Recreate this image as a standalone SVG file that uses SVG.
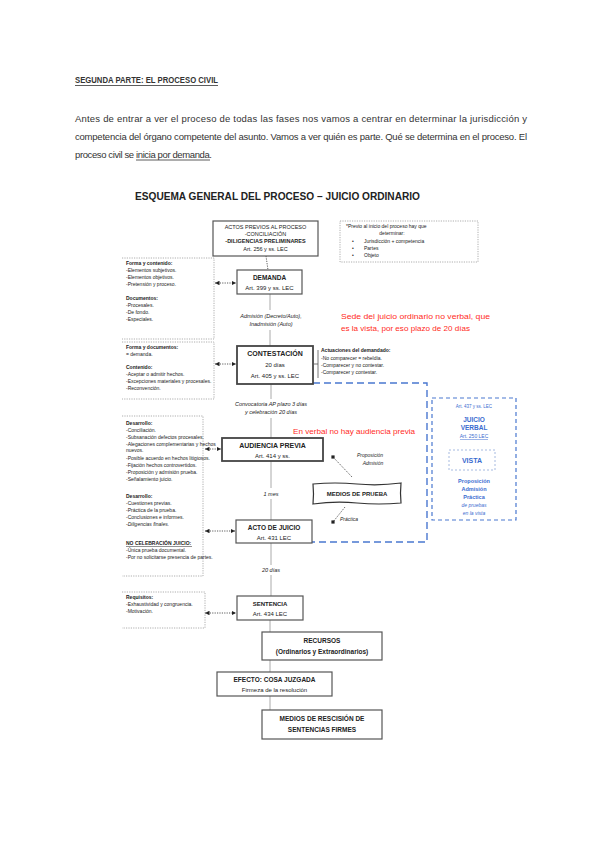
<svg xmlns="http://www.w3.org/2000/svg" width="600" height="848" viewBox="0 0 600 848">
<style>
text{font-family:"Liberation Sans",Arial,sans-serif;fill:#222}
.hd{font-size:9.5px;fill:#333}
.c{text-anchor:middle}
.b{font-weight:bold}
.i{font-style:italic}
.box{fill:#fff;stroke:#555;stroke-width:1.2}
.bx2{fill:#fff;stroke:#444;stroke-width:1.8}
.dotb{fill:none;stroke:#999;stroke-width:0.8;stroke-dasharray:1.2,1.2}
.sp{fill:none;stroke:#aaa;stroke-width:1}
.da{fill:none;stroke:#333;stroke-width:0.8;stroke-dasharray:1.2,1.2}
.red{fill:#ff2b1c}
.bl{fill:#3a6bd0}
.s5{font-size:5px}
.s55{font-size:5.5px}
.s6{font-size:6px}
.s65{font-size:6.5px}
.s7{font-size:7px}
</style>
<defs>
<marker id="ah" viewBox="0 0 6 6" refX="6" refY="3" markerWidth="4.5" markerHeight="4.5" markerUnits="userSpaceOnUse" orient="auto-start-reverse"><path d="M0,0 L6,3 L0,6z" fill="#222"/></marker>
<marker id="sq" viewBox="0 0 4 4" refX="2" refY="2" markerWidth="3.2" markerHeight="3.2" markerUnits="userSpaceOnUse"><rect width="4" height="4" fill="#222"/></marker>
</defs>
<rect width="600" height="848" fill="#fff"/>

<g id="header">
<text class="hd b" x="75" y="83" textLength="143" lengthAdjust="spacingAndGlyphs">SEGUNDA PARTE: EL PROCESO CIVIL</text>
<line x1="75" y1="85.5" x2="218" y2="85.5" stroke="#333" stroke-width="0.8"/>
<text class="hd" x="75" y="122" textLength="452" lengthAdjust="spacing">Antes de entrar a ver el proceso de todas las fases nos vamos a centrar en determinar la jurisdicción y</text>
<text class="hd" x="75" y="140" textLength="452" lengthAdjust="spacing">competencia del órgano competente del asunto. Vamos a ver quién es parte. Qué se determina en el proceso. El</text>
<text class="hd" x="75" y="158" textLength="137" lengthAdjust="spacing">proceso civil se inicia por demanda.</text>
<line x1="136" y1="160" x2="210" y2="160" stroke="#333" stroke-width="0.8"/>
</g>

<text class="b" x="135" y="200" font-size="10.5" textLength="285" lengthAdjust="spacingAndGlyphs">ESQUEMA GENERAL DEL PROCESO – JUICIO ORDINARIO</text>

<g id="connectors">
<line class="da" x1="266" y1="256" x2="268" y2="270"/>
<path class="sp" d="M270,294 V310 M270,330 V346 M271,384 V399 M271,418 V438 M271,461 V488 M271,499 V520 M271,543 V565 M271,575 V596 M270,620 V632 M270,660 V672 M270,696 V710"/>
<path d="M313,383 H427 V542 H312" fill="none" stroke="#4a78d0" stroke-width="1.4" stroke-dasharray="7,4"/>
<line class="da" x1="215" y1="283" x2="236" y2="283" marker-start="url(#ah)" marker-end="url(#ah)"/>
<line class="da" x1="215" y1="364" x2="236" y2="364" marker-start="url(#ah)" marker-end="url(#ah)"/>
<line class="da" x1="205" y1="449" x2="221" y2="449" marker-start="url(#ah)" marker-end="url(#ah)"/>
<line class="da" x1="205" y1="531" x2="235" y2="531" marker-start="url(#ah)" marker-end="url(#ah)"/>
<line class="da" x1="205" y1="613" x2="236" y2="613" marker-start="url(#ah)" marker-end="url(#ah)"/>
<line class="da" x1="333" y1="457" x2="352" y2="477" marker-start="url(#sq)"/>
<line class="da" x1="345" y1="507" x2="333" y2="522" marker-end="url(#sq)"/>
<path d="M314,364 H318 M318,350 V378" fill="none" stroke="#555" stroke-width="0.8"/>
</g>

<g id="actos">
<rect class="box" x="213" y="221" width="105" height="35"/>
<text class="c s55" x="265.5" y="229">ACTOS PREVIOS AL PROCESO</text>
<text class="c s55" x="265.5" y="236">-CONCILIACIÓN</text>
<text class="c s55 b" x="265.5" y="243">-DILIGENCIAS PRELIMINARES</text>
<text class="c s55" x="265.5" y="251">Art. 256 y ss. LEC</text>
</g>

<g id="previo">
<rect class="dotb" x="340" y="221" width="138" height="41"/>
<text class="s5" x="346" y="228">*Previo al inicio del proceso hay que</text>
<text class="s5 c" x="392" y="235">determinar:</text>
<text class="s5" x="352" y="243">•</text><text class="s5" x="364" y="243">Jurisdicción + competencia</text>
<text class="s5" x="352" y="250">•</text><text class="s5" x="364" y="250">Partes</text>
<text class="s5" x="352" y="257">•</text><text class="s5" x="364" y="257">Objeto</text>
</g>

<g id="izq1">
<path class="dotb" d="M122,258 H214 V339 H122"/>
<text class="s5 b" x="126" y="265">Forma y contenido:</text>
<text class="s5" x="126" y="272">-Elementos subjetivos.</text>
<text class="s5" x="126" y="279">-Elementos objetivos.</text>
<text class="s5" x="126" y="286">-Pretensión y proceso.</text>
<text class="s5 b" x="126" y="300">Documentos:</text>
<text class="s5" x="126" y="307">-Procesales.</text>
<text class="s5" x="126" y="314">-De fondo.</text>
<text class="s5" x="126" y="321">-Especiales.</text>
</g>

<g id="izq2">
<path class="dotb" d="M122,342 H214 V399 H122"/>
<text class="s5 b" x="126" y="349">Forma y documentos:</text>
<text class="s5" x="126" y="356">= demanda.</text>
<text class="s5 b" x="126" y="369">Contenido:</text>
<text class="s5" x="126" y="376">-Aceptar o admitir hechos.</text>
<text class="s5" x="126" y="383">-Excepciones materiales y procesales.</text>
<text class="s5" x="126" y="390">-Reconvención.</text>
</g>

<g id="izq3">
<path class="dotb" d="M122,416 H203 V576 H122"/>
<text class="s5 b" x="126" y="425">Desarrollo:</text>
<text class="s5" x="126" y="432">-Conciliación.</text>
<text class="s5" x="126" y="439">-Subsanación defectos procesales.</text>
<text class="s5" x="126" y="446">-Alegaciones complementarias y hechos</text>
<text class="s5" x="126" y="452">nuevos.</text>
<text class="s5" x="126" y="460">-Posible acuerdo en hechos litigiosos.</text>
<text class="s5" x="126" y="467">-Fijación hechos controvertidos.</text>
<text class="s5" x="126" y="474">-Proposición y admisión prueba.</text>
<text class="s5" x="126" y="481">-Señalamiento juicio.</text>
<text class="s5 b" x="126" y="498">Desarrollo:</text>
<text class="s5" x="126" y="505">-Cuestiones previas.</text>
<text class="s5" x="126" y="512">-Práctica de la prueba.</text>
<text class="s5" x="126" y="519">-Conclusiones e informes.</text>
<text class="s5 i" x="126" y="526">-Diligencias finales.</text>
<text class="s5 b" x="126" y="545">NO CELEBRACIÓN JUICIO:</text>
<line x1="126" y1="546.5" x2="192" y2="546.5" stroke="#222" stroke-width="0.5"/>
<text class="s5" x="126" y="552">-Única prueba documental.</text>
<text class="s5" x="126" y="559">-Por no solicitarse presencia de partes.</text>
</g>

<g id="izq4">
<path class="dotb" d="M122,592 H205 V628 H122"/>
<text class="s5 b" x="126" y="599">Requisitos:</text>
<text class="s5" x="126" y="606">-Exhaustividad y congruencia.</text>
<text class="s5" x="126" y="613">-Motivación.</text>
</g>

<g id="demanda">
<rect class="box" x="237" y="270" width="65" height="24"/>
<text class="c s65 b" x="269.5" y="280">DEMANDA</text>
<text class="c s6" x="269.5" y="290">Art. 399 y ss. LEC</text>
</g>
<g id="admision">
<text class="c s55 i" x="271" y="318">Admisión (Decreto/Auto),</text>
<text class="c s55 i" x="271" y="326">Inadmisión (Auto)</text>
</g>
<g id="nota-roja1">
<text class="red" x="341" y="319" font-size="7.6" textLength="149" lengthAdjust="spacingAndGlyphs">Sede del juicio ordinario no verbal, que</text>
<text class="red" x="341" y="331" font-size="7.6" textLength="129" lengthAdjust="spacingAndGlyphs">es la vista, por eso plazo de 20 días</text>
</g>

<g id="contestacion">
<rect class="bx2" x="237" y="346" width="76" height="38"/>
<text class="c s7 b" x="275" y="356">CONTESTACIÓN</text>
<text class="c s6" x="275" y="367">20 días</text>
<text class="c s6" x="275" y="378">Art. 405 y ss. LEC</text>
</g>
<g id="actuaciones">
<text class="s5 b" x="321" y="352">Actuaciones del demandado:</text>
<text class="s5" x="321" y="360">-No comparecer = rebeldía.</text>
<text class="s5" x="321" y="367">-Comparecer y no contestar.</text>
<text class="s5" x="321" y="374">-Comparecer y contestar.</text>
</g>

<g id="convocatoria">
<text class="c s55 i" x="271" y="406">Convocatoria AP plazo 3 días</text>
<text class="c s55 i" x="271" y="414">y celebración 20 días</text>
</g>
<text class="red" x="293" y="434" font-size="7.6" textLength="122" lengthAdjust="spacingAndGlyphs">En verbal no hay audiencia previa</text>

<g id="verbal">
<rect x="432" y="398" width="84" height="122" fill="none" stroke="#4a78d0" stroke-width="1.2" stroke-dasharray="4,3"/>
<text class="c bl" x="474" y="408" font-size="4.5">Art. 437 y ss. LEC</text>
<text class="c bl b s65" x="474" y="422">JUICIO</text>
<text class="c bl b s65" x="474" y="430">VERBAL</text>
<text class="c bl s5" x="474" y="438">Art. 250 LEC</text>
<line x1="460" y1="439.5" x2="488" y2="439.5" stroke="#3a6bd0" stroke-width="0.5"/>
<rect x="449" y="450" width="46" height="20" fill="none" stroke="#8fa8d8" stroke-width="0.8" stroke-dasharray="2,2"/>
<text class="c bl b s7" x="472" y="463">VISTA</text>
<text class="c bl b s55" x="474" y="483">Proposición</text>
<text class="c bl b s55" x="474" y="491">Admisión</text>
<text class="c bl b s55" x="474" y="499">Práctica</text>
<text class="c bl i s5" x="474" y="507">de pruebas</text>
<text class="c bl i s5" x="474" y="515">en la vista</text>
</g>

<g id="audiencia">
<rect class="bx2" x="222" y="438" width="101" height="23"/>
<text class="c s7 b" x="272.5" y="448">AUDIENCIA PREVIA</text>
<text class="c s6" x="272.5" y="458">Art. 414 y ss.</text>
</g>
<text class="c s55 i" x="271" y="496">1 mes</text>
<g id="proposicion">
<text class="c s5 i" x="370" y="457">Proposición</text>
<text class="c s5 i" x="373" y="465">Admisión</text>
</g>

<g id="medios">
<path d="M313,484 Q335,482 357,484 T401,483 Q400,493 401,503 Q379,505 357,503 T313,504 Q314,494 313,484z" fill="#fff" stroke="#333" stroke-width="1.2"/>
<text class="c s6 b" x="357" y="496">MEDIOS DE PRUEBA</text>
</g>
<text class="s5 i" x="340" y="521">Práctica</text>

<g id="juicio">
<rect class="box" x="236" y="520" width="76" height="23" stroke-width="1.4"/>
<text class="c s65 b" x="274" y="530">ACTO DE JUICIO</text>
<text class="c s6" x="274" y="540">Art. 431 LEC</text>
</g>
<text class="c s55 i" x="271" y="572">20 días</text>

<g id="sentencia">
<rect class="box" x="237" y="596" width="66" height="24"/>
<text class="c s6 b" x="270" y="606">SENTENCIA</text>
<text class="c s6" x="270" y="616">Art. 434 LEC</text>
</g>

<g id="recursos">
<rect class="box" x="262" y="632" width="120" height="28"/>
<text class="c s65 b" x="322" y="643">RECURSOS</text>
<text class="c s65 b" x="322" y="654">(Ordinarios y Extraordinarios)</text>
</g>

<g id="efecto">
<rect class="box" x="217" y="672" width="115" height="24"/>
<text class="c s65 b" x="274.5" y="682">EFECTO: COSA JUZGADA</text>
<text class="c s6" x="274.5" y="692">Firmeza de la resolución</text>
</g>

<g id="rescision">
<rect class="box" x="262" y="710" width="120" height="29"/>
<text class="c s65 b" x="322" y="721">MEDIOS DE RESCISIÓN DE</text>
<text class="c s65 b" x="322" y="732">SENTENCIAS FIRMES</text>
</g>
</svg>
